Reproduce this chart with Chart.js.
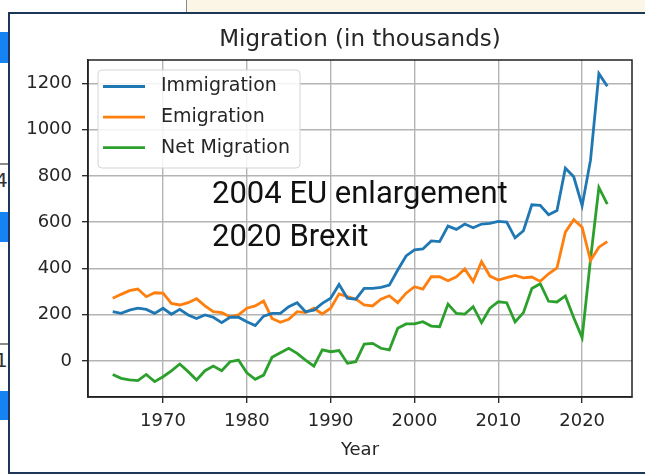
<!DOCTYPE html>
<html>
<head>
<meta charset="utf-8">
<title>Migration (in thousands)</title>
<script src="https://cdn.jsdelivr.net/npm/chart.js@4.4.1/dist/chart.umd.min.js"></script>
<style>
    html, body { margin: 0; padding: 0; background: #fff; }
    body { width: 645px; height: 475px; position: relative; overflow: hidden; font-family: "DejaVu Sans", sans-serif; }
    #topbar { position: absolute; left: 186px; top: 0; width: 459px; height: 13px; background: #fcf6e6; border-left: 1.5px solid #8a8a8a; }
    .tab { position: absolute; left: 0; width: 9px; background: #1683f5; }
    .rule { position: absolute; left: 0; width: 9px; height: 1.5px; background: #8a8a8a; }
    .frag { position: absolute; left: -5px; font-size: 20px; color: #333; }
    #frame { position: absolute; left: 8px; top: 12px; width: 640px; height: 462px; box-sizing: border-box; border: 2px solid #1d3557; background: #fff; }
    #chart { position: absolute; left: 0; top: 0; }
</style>
</head>
<body>
<div id="topbar"></div>
<div class="tab" style="top:32px;height:31px"></div>
<div class="rule" style="top:163px"></div>
<div class="frag" style="top:168px">4</div>
<div class="tab" style="top:212px;height:30px"></div>
<div class="rule" style="top:343px"></div>
<div class="frag" style="top:348px">1</div>
<div class="tab" style="top:391px;height:29px"></div>
<div id="frame"></div>
<canvas id="chart" width="645" height="475"></canvas>
<script>
// values, thousands of people per year
const years = [];
for (let y = 1964; y <= 2023; y++) years.push(y);

const immigration = [
    213, 206, 220, 228, 223, 206, 228, 202, 223, 199,
    184, 199, 189, 166, 189, 189, 170, 153, 194, 206,
    206, 235, 252, 213, 220, 249, 271, 331, 271, 267,
    314, 314, 318, 328, 393, 454, 480, 484, 519, 516,
    583, 569, 592, 576, 592, 595, 603, 600, 532, 563,
    675, 673, 632, 650, 833, 796, 671, 868, 1242, 1187
];
const emigration = [
    271, 288, 304, 311, 278, 295, 293, 249, 242, 252,
    269, 238, 213, 209, 191, 199, 228, 238, 259, 184,
    167, 180, 213, 209, 228, 203, 228, 290, 278, 267,
    242, 238, 267, 282, 252, 293, 321, 311, 364, 364,
    347, 364, 398, 343, 429, 367, 350, 360, 370, 359,
    363, 344, 377, 402, 557, 611, 578, 434, 492, 516
];
const netMigration = [
    -58, -75, -82, -85, -58, -89, -68, -43, -13, -46,
    -82, -42, -22, -42, -3, 4, -51, -79, -61, 16,
    36, 55, 33, 4, -22, 48, 40, 45, -10, -3,
    73, 76, 55, 48, 141, 160, 160, 170, 151, 148,
    246, 206, 203, 235, 166, 228, 256, 252, 169, 209,
    313, 334, 258, 255, 281, 187, 101, 439, 750, 678
];

const xTicks = [1970, 1980, 1990, 2000, 2010, 2020];
const yTicks = [0, 200, 400, 600, 800, 1000, 1200];
const chartTitle = 'Migration (in thousands)';
const notes = ['2004 EU enlargement', '2020 Brexit'];

const TEXT = '#262626';
const GRID = '#b4b4b4';
const SPINE = '#222';

function series(values) {
    return values.map((v, i) => ({ x: years[i], y: v }));
}

// title over the plot, top/right spines, boxed legend and the two overlaid notes
const extras = {
    id: 'extras',
    afterDatasetsDraw(chart) {
        const { ctx, chartArea: a } = chart;
        ctx.save();
        ctx.strokeStyle = SPINE;
        ctx.lineWidth = 1.5;
        ctx.strokeRect(a.left, a.top, a.right - a.left, a.bottom - a.top);

        ctx.fillStyle = TEXT;
        ctx.font = '23px "DejaVu Sans"';
        ctx.textAlign = 'center';
        ctx.textBaseline = 'middle';
        ctx.fillText(chartTitle, (a.left + a.right) / 2, a.top - 20);
        ctx.textAlign = 'left';

        const bx = a.left + 10, by = a.top + 10, bw = 202, bh = 98;
        ctx.beginPath();
        ctx.roundRect(bx, by, bw, bh, 4);
        ctx.fillStyle = 'rgba(255,255,255,0.85)';
        ctx.fill();
        ctx.strokeStyle = '#d4d4d4';
        ctx.lineWidth = 1;
        ctx.stroke();

        ctx.font = '19px "DejaVu Sans"';
        chart.data.datasets.forEach((ds, i) => {
            const ry = by + 16.5 + i * 30.6;
            ctx.strokeStyle = ds.borderColor;
            ctx.lineWidth = 2.8;
            ctx.beginPath();
            ctx.moveTo(bx + 5, ry);
            ctx.lineTo(bx + 47, ry);
            ctx.stroke();
            ctx.fillStyle = TEXT;
            ctx.fillText(ds.label, bx + 63, ry);
        });

        ctx.fillStyle = '#111';
        ctx.font = '31px Roboto';
        ctx.textBaseline = 'alphabetic';
        notes.forEach((t, i) => ctx.fillText(t, a.left + 124, a.top + 143 + i * 43));
        ctx.restore();
    }
};

new Chart(document.getElementById('chart').getContext('2d'), {
    type: 'line',
    data: {
        datasets: [
            { label: 'Immigration', data: series(immigration), borderColor: '#1f77b4' },
            { label: 'Emigration', data: series(emigration), borderColor: '#ff7f0e' },
            { label: 'Net Migration', data: series(netMigration), borderColor: '#2ca02c' }
        ]
    },
    options: {
        responsive: false,
        animation: false,
        layout: { padding: { left: 10, right: 13, top: 60, bottom: 10 } },
        elements: {
            point: { radius: 0 },
            line: { borderWidth: 2.8, tension: 0, fill: false }
        },
        plugins: {
            legend: { display: false },
            tooltip: { enabled: false },
            title: { display: false }
        },
        scales: {
            x: {
                type: 'linear',
                min: 1961.05,
                max: 2025.95,
                afterBuildTicks: s => { s.ticks = xTicks.map(v => ({ value: v })); },
                afterFit: s => { s.height = 68; },
                grid: { color: GRID, lineWidth: 1.4, tickColor: SPINE, tickLength: 6, tickWidth: 1.3 },
                border: { color: SPINE, width: 1.5 },
                ticks: {
                    color: TEXT, padding: 8, maxRotation: 0,
                    font: { family: 'DejaVu Sans', size: 18 },
                    callback: v => String(v)
                },
                title: {
                    display: true, text: 'Year', color: TEXT,
                    font: { family: 'DejaVu Sans', size: 18 },
                    padding: { top: 0, bottom: 4 }
                }
            },
            y: {
                min: -155.6,
                max: 1300.8,
                afterBuildTicks: s => { s.ticks = yTicks.map(v => ({ value: v })); },
                afterFit: s => { s.width = 78; },
                grid: { color: GRID, lineWidth: 1.4, tickColor: SPINE, tickLength: 6, tickWidth: 1.3 },
                border: { color: SPINE, width: 1.5 },
                ticks: {
                    color: TEXT, padding: 10,
                    font: { family: 'DejaVu Sans', size: 18 },
                    callback: v => String(v)
                }
            }
        }
    },
    plugins: [extras]
});
</script>
</body>
</html>
